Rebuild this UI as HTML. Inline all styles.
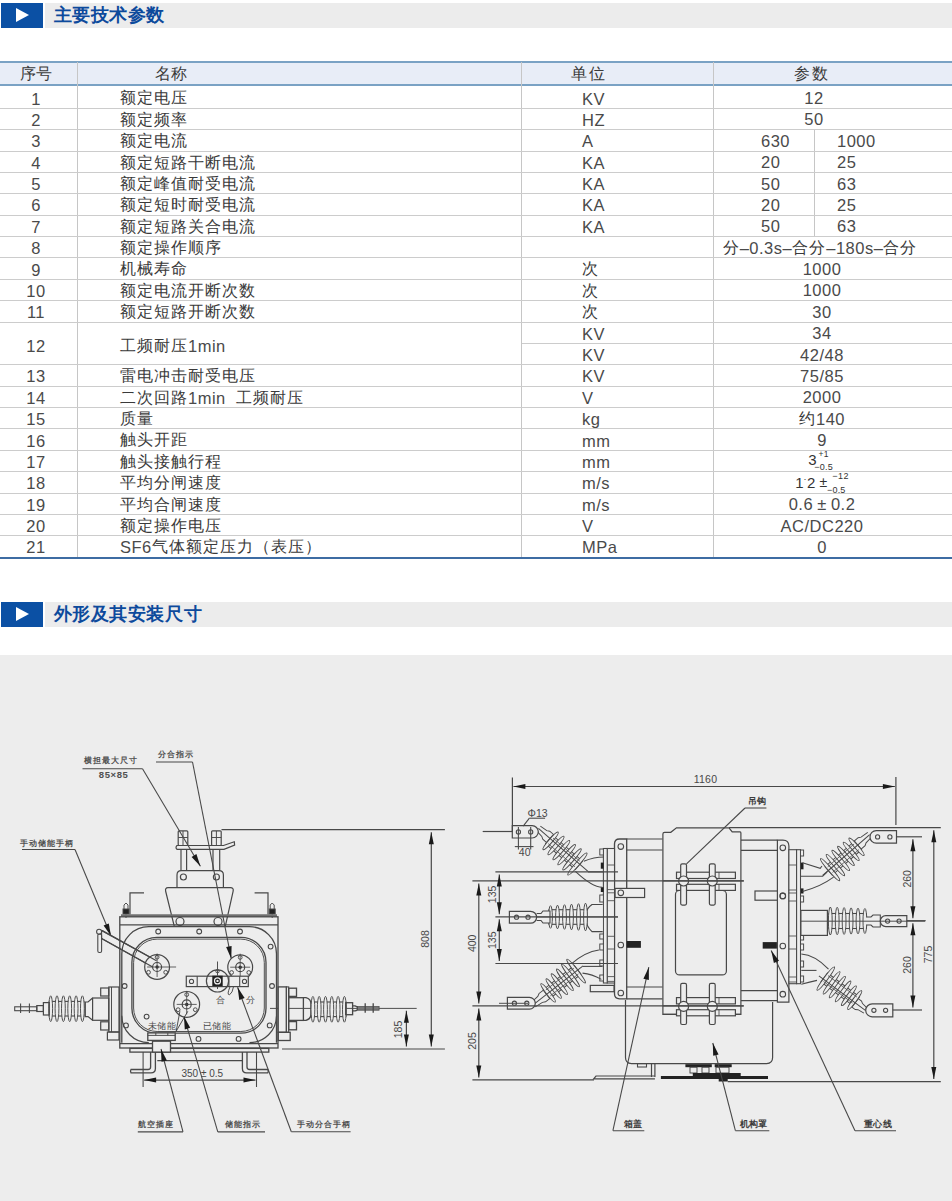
<!DOCTYPE html>
<html><head><meta charset="utf-8">
<style>
html,body{margin:0;padding:0;width:952px;height:1201px;overflow:hidden;background:#fff;}
body{position:relative;font-family:"Liberation Sans",sans-serif;color:#333;}
.abs{position:absolute;}
.hbox{position:absolute;left:1px;width:42px;height:25px;background:#0b50a4;}
.hbox:after{content:"";position:absolute;left:15px;top:5px;border-left:13px solid #fff;border-top:7.5px solid transparent;border-bottom:7.5px solid transparent;}
.hbar{position:absolute;left:45px;right:0;height:25px;background:#ececec;}
.htxt{position:absolute;left:53.5px;font-size:18px;color:#0d4a9c;line-height:25px;letter-spacing:0.6px;font-weight:bold;}
.hl{position:absolute;left:0;width:952px;height:1px;background:#cccccc;}
.vl{position:absolute;width:1px;background:#c6c6c6;}
.c{position:absolute;font-size:15.5px;line-height:21px;color:#3a3a3a;white-space:nowrap;}
.cc{text-align:center;}
.c{letter-spacing:1px;}
.l{font-size:16.5px;letter-spacing:0.5px;position:relative;top:1.2px;color:#4a4a4a;}
</style></head><body>
<div class="hbox" style="top:3px"></div><div class="hbar" style="top:3px"></div>
<div class="htxt" style="top:2.5px">主要技术参数</div>

<div id="tbl">
<div class="abs" style="left:0;top:62px;width:952px;height:23px;background:#e8edf7"></div>
<div class="abs" style="left:0;top:61px;width:952px;height:2px;background:#7aa2c4"></div>
<div class="abs" style="left:0;top:84px;width:952px;height:2px;background:#7aa2c4"></div>
<div class="abs" style="left:0;top:557px;width:952px;height:2px;background:#3d6ca3"></div>
<div class="c" style="left:20px;top:62px;line-height:23px;font-size:16px;letter-spacing:0.3px">序号</div>
<div class="c" style="left:155px;top:62px;line-height:23px;font-size:16px;letter-spacing:0.3px">名称</div>
<div class="c" style="left:570.5px;top:62px;line-height:23px;font-size:16px;letter-spacing:2.3px">单位</div>
<div class="c" style="left:793.5px;top:62px;line-height:23px;font-size:16px;letter-spacing:2px">参数</div>
<div class="vl" style="left:77px;top:62px;height:495px"></div>
<div class="vl" style="left:521.2px;top:62px;height:495px"></div>
<div class="vl" style="left:712.5px;top:62px;height:495px"></div>
<div class="vl" style="left:813.5px;top:129.7px;height:106.9px"></div>
<div class="c cc" style="left:0;width:72px;top:86.5px;line-height:22.3px"><span class="l">1</span></div>
<div class="c" style="left:120px;top:86.5px;line-height:22.3px">额定电压</div>
<div class="c" style="left:582px;top:86.5px;line-height:22.3px"><span class="l">KV</span></div>
<div class="c cc" style="left:714px;width:200px;top:86.0px;line-height:22.3px"><span class="l">12</span></div>
<div class="hl" style="top:108px"></div>
<div class="c cc" style="left:0;width:72px;top:108.8px;line-height:21.4px"><span class="l">2</span></div>
<div class="c" style="left:120px;top:108.8px;line-height:21.4px">额定频率</div>
<div class="c" style="left:582px;top:108.8px;line-height:21.4px"><span class="l">HZ</span></div>
<div class="c cc" style="left:714px;width:200px;top:108.3px;line-height:21.4px"><span class="l">50</span></div>
<div class="hl" style="top:129px"></div>
<div class="c cc" style="left:0;width:72px;top:130.2px;line-height:21.4px"><span class="l">3</span></div>
<div class="c" style="left:120px;top:130.2px;line-height:21.4px">额定电流</div>
<div class="c" style="left:582px;top:130.2px;line-height:21.4px"><span class="l">A</span></div>
<div class="c" style="left:761px;top:129.7px;line-height:21.4px"><span class="l">630</span></div>
<div class="c" style="left:837px;top:129.7px;line-height:21.4px"><span class="l">1000</span></div>
<div class="hl" style="top:151px"></div>
<div class="c cc" style="left:0;width:72px;top:151.6px;line-height:21.4px"><span class="l">4</span></div>
<div class="c" style="left:120px;top:151.6px;line-height:21.4px">额定短路干断电流</div>
<div class="c" style="left:582px;top:151.6px;line-height:21.4px"><span class="l">KA</span></div>
<div class="c" style="left:761px;top:151.1px;line-height:21.4px"><span class="l">20</span></div>
<div class="c" style="left:837px;top:151.1px;line-height:21.4px"><span class="l">25</span></div>
<div class="hl" style="top:172px"></div>
<div class="c cc" style="left:0;width:72px;top:172.9px;line-height:21.4px"><span class="l">5</span></div>
<div class="c" style="left:120px;top:172.9px;line-height:21.4px">额定峰值耐受电流</div>
<div class="c" style="left:582px;top:172.9px;line-height:21.4px"><span class="l">KA</span></div>
<div class="c" style="left:761px;top:172.4px;line-height:21.4px"><span class="l">50</span></div>
<div class="c" style="left:837px;top:172.4px;line-height:21.4px"><span class="l">63</span></div>
<div class="hl" style="top:193px"></div>
<div class="c cc" style="left:0;width:72px;top:194.3px;line-height:21.4px"><span class="l">6</span></div>
<div class="c" style="left:120px;top:194.3px;line-height:21.4px">额定短时耐受电流</div>
<div class="c" style="left:582px;top:194.3px;line-height:21.4px"><span class="l">KA</span></div>
<div class="c" style="left:761px;top:193.8px;line-height:21.4px"><span class="l">20</span></div>
<div class="c" style="left:837px;top:193.8px;line-height:21.4px"><span class="l">25</span></div>
<div class="hl" style="top:215px"></div>
<div class="c cc" style="left:0;width:72px;top:215.7px;line-height:21.4px"><span class="l">7</span></div>
<div class="c" style="left:120px;top:215.7px;line-height:21.4px">额定短路关合电流</div>
<div class="c" style="left:582px;top:215.7px;line-height:21.4px"><span class="l">KA</span></div>
<div class="c" style="left:761px;top:215.2px;line-height:21.4px"><span class="l">50</span></div>
<div class="c" style="left:837px;top:215.2px;line-height:21.4px"><span class="l">63</span></div>
<div class="hl" style="top:236px"></div>
<div class="c cc" style="left:0;width:72px;top:237.1px;line-height:21.4px"><span class="l">8</span></div>
<div class="c" style="left:120px;top:237.1px;line-height:21.4px">额定操作顺序</div>
<div class="c cc" style="left:720px;width:200px;top:236.6px;line-height:21.4px">分<span class="l">–0.3s–</span>合分<span class="l">–180s–</span>合分</div>
<div class="hl" style="top:257px"></div>
<div class="c cc" style="left:0;width:72px;top:258.4px;line-height:21.4px"><span class="l">9</span></div>
<div class="c" style="left:120px;top:258.4px;line-height:21.4px">机械寿命</div>
<div class="c" style="left:582px;top:258.4px;line-height:21.4px">次</div>
<div class="c cc" style="left:722px;width:200px;top:257.9px;line-height:21.4px"><span class="l">1000</span></div>
<div class="hl" style="top:279px"></div>
<div class="c cc" style="left:0;width:72px;top:279.8px;line-height:21.4px"><span class="l">10</span></div>
<div class="c" style="left:120px;top:279.8px;line-height:21.4px">额定电流开断次数</div>
<div class="c" style="left:582px;top:279.8px;line-height:21.4px">次</div>
<div class="c cc" style="left:722px;width:200px;top:279.3px;line-height:21.4px"><span class="l">1000</span></div>
<div class="hl" style="top:300px"></div>
<div class="c cc" style="left:0;width:72px;top:301.2px;line-height:21.4px"><span class="l">11</span></div>
<div class="c" style="left:120px;top:301.2px;line-height:21.4px">额定短路开断次数</div>
<div class="c" style="left:582px;top:301.2px;line-height:21.4px">次</div>
<div class="c cc" style="left:722px;width:200px;top:300.7px;line-height:21.4px"><span class="l">30</span></div>
<div class="hl" style="top:322px"></div>
<div class="c cc" style="left:0;width:72px;top:324.1px;line-height:42.8px"><span class="l">12</span></div>
<div class="c" style="left:120px;top:324.1px;line-height:42.8px">工频耐压<span class="l">1min</span></div>
<div class="c" style="left:582px;top:322.6px;line-height:21.4px"><span class="l">KV</span></div>
<div class="c cc" style="left:722px;width:200px;top:322.1px;line-height:21.4px"><span class="l">34</span></div>
<div class="abs" style="left:522px;top:343px;width:430px;height:1px;background:#cccccc"></div>
<div class="c" style="left:582px;top:343.9px;line-height:21.4px"><span class="l">KV</span></div>
<div class="c cc" style="left:722px;width:200px;top:343.4px;line-height:21.4px"><span class="l">42/48</span></div>
<div class="hl" style="top:364px"></div>
<div class="c cc" style="left:0;width:72px;top:365.3px;line-height:21.4px"><span class="l">13</span></div>
<div class="c" style="left:120px;top:365.3px;line-height:21.4px">雷电冲击耐受电压</div>
<div class="c" style="left:582px;top:365.3px;line-height:21.4px"><span class="l">KV</span></div>
<div class="c cc" style="left:722px;width:200px;top:364.8px;line-height:21.4px"><span class="l">75/85</span></div>
<div class="hl" style="top:386px"></div>
<div class="c cc" style="left:0;width:72px;top:386.7px;line-height:21.4px"><span class="l">14</span></div>
<div class="c" style="left:120px;top:386.7px;line-height:21.4px">二次回路<span class="l">1min</span>  工频耐压</div>
<div class="c" style="left:582px;top:386.7px;line-height:21.4px"><span class="l">V</span></div>
<div class="c cc" style="left:722px;width:200px;top:386.2px;line-height:21.4px"><span class="l">2000</span></div>
<div class="hl" style="top:407px"></div>
<div class="c cc" style="left:0;width:72px;top:408.1px;line-height:21.4px"><span class="l">15</span></div>
<div class="c" style="left:120px;top:408.1px;line-height:21.4px">质量</div>
<div class="c" style="left:582px;top:408.1px;line-height:21.4px"><span class="l">kg</span></div>
<div class="c cc" style="left:722px;width:200px;top:407.6px;line-height:21.4px">约<span class="l">140</span></div>
<div class="hl" style="top:428px"></div>
<div class="c cc" style="left:0;width:72px;top:429.4px;line-height:21.4px"><span class="l">16</span></div>
<div class="c" style="left:120px;top:429.4px;line-height:21.4px">触头开距</div>
<div class="c" style="left:582px;top:429.4px;line-height:21.4px"><span class="l">mm</span></div>
<div class="c cc" style="left:722px;width:200px;top:428.9px;line-height:21.4px"><span class="l">9</span></div>
<div class="hl" style="top:450px"></div>
<div class="c cc" style="left:0;width:72px;top:450.8px;line-height:21.4px"><span class="l">17</span></div>
<div class="c" style="left:120px;top:450.8px;line-height:21.4px">触头接触行程</div>
<div class="c" style="left:582px;top:450.8px;line-height:21.4px"><span class="l">mm</span></div>
<div class="hl" style="top:471px"></div>
<div class="c cc" style="left:0;width:72px;top:472.2px;line-height:21.4px"><span class="l">18</span></div>
<div class="c" style="left:120px;top:472.2px;line-height:21.4px">平均分闸速度</div>
<div class="c" style="left:582px;top:472.2px;line-height:21.4px"><span class="l">m/s</span></div>
<div class="hl" style="top:493px"></div>
<div class="c cc" style="left:0;width:72px;top:493.6px;line-height:21.4px"><span class="l">19</span></div>
<div class="c" style="left:120px;top:493.6px;line-height:21.4px">平均合闸速度</div>
<div class="c" style="left:582px;top:493.6px;line-height:21.4px"><span class="l">m/s</span></div>
<div class="c cc" style="left:722px;width:200px;top:493.1px;line-height:21.4px"><span class="l">0.6</span> <span class="l">±</span> <span class="l">0.2</span></div>
<div class="hl" style="top:514px"></div>
<div class="c cc" style="left:0;width:72px;top:514.9px;line-height:21.4px"><span class="l">20</span></div>
<div class="c" style="left:120px;top:514.9px;line-height:21.4px">额定操作电压</div>
<div class="c" style="left:582px;top:514.9px;line-height:21.4px"><span class="l">V</span></div>
<div class="c cc" style="left:722px;width:200px;top:514.4px;line-height:21.4px"><span class="l">AC/DC220</span></div>
<div class="hl" style="top:535px"></div>
<div class="c cc" style="left:0;width:72px;top:536.3px;line-height:21.4px"><span class="l">21</span></div>
<div class="c" style="left:120px;top:536.3px;line-height:21.4px"><span class="l">SF6</span>气体额定压力（表压）</div>
<div class="c" style="left:582px;top:536.3px;line-height:21.4px"><span class="l">MPa</span></div>
<div class="c cc" style="left:722px;width:200px;top:535.8px;line-height:21.4px"><span class="l">0</span></div>
<div class="abs" style="left:808.2px;top:452.0px;font-size:15.0px;line-height:1;letter-spacing:0.0px;color:#333;white-space:nowrap">3</div>
<div class="abs" style="left:818.5px;top:450.3px;font-size:8.5px;line-height:1;letter-spacing:0.3px;color:#333;white-space:nowrap">+1</div>
<div class="abs" style="left:814.3px;top:462.8px;font-size:9.0px;line-height:1;letter-spacing:0.2px;color:#333;white-space:nowrap">−0.5</div>
<div class="abs" style="left:795.2px;top:475.0px;font-size:15.0px;line-height:1;letter-spacing:0.0px;color:#333;white-space:nowrap">1</div>
<div class="abs" style="left:803.5px;top:475.0px;font-size:9.0px;line-height:1;letter-spacing:0.0px;color:#333;white-space:nowrap">·</div>
<div class="abs" style="left:807.0px;top:475.0px;font-size:15.0px;line-height:1;letter-spacing:0.0px;color:#333;white-space:nowrap">2</div>
<div class="abs" style="left:819.5px;top:474.5px;font-size:14.0px;line-height:1;letter-spacing:0.0px;color:#333;white-space:nowrap">±</div>
<div class="abs" style="left:832.2px;top:472.0px;font-size:9.0px;line-height:1;letter-spacing:0.5px;color:#333;white-space:nowrap">−12</div>
<div class="abs" style="left:827.0px;top:486.4px;font-size:9.0px;line-height:1;letter-spacing:0.2px;color:#333;white-space:nowrap">−0.5</div>
</div>

<div class="hbox" style="top:602px"></div><div class="hbar" style="top:602px"></div>
<div class="htxt" style="top:601.5px">外形及其安装尺寸</div>

<div class="abs" style="left:0;top:654.6px;width:952px;height:547px;background:#ededed"></div>
<svg class="abs" style="left:0;top:0" width="952" height="1201" viewBox="0 0 952 1201" font-family="Liberation Sans, sans-serif">
<text x="84.0" y="763.2" font-size="8.2" text-anchor="start" font-weight="bold" fill="#505050" letter-spacing="1.1">横担最大尺寸</text>
<line x1="82.5" y1="768.8" x2="142.5" y2="768.8" stroke="#484848" stroke-width="1.08"/>
<text x="98.8" y="777.8" font-size="9.5" text-anchor="start" font-weight="bold" fill="#505050" letter-spacing="0.6">85×85</text>
<line x1="142.5" y1="768.8" x2="200.4" y2="866.3" stroke="#484848" stroke-width="1.08"/>
<path d="M200.4,866.3 L191.6,857.0 L196.4,854.1 Z" fill="#1a1a1a"/>
<text x="157.5" y="756.7" font-size="8.2" text-anchor="start" font-weight="bold" fill="#505050" letter-spacing="1.1">分合指示</text>
<line x1="156.0" y1="762.0" x2="192.5" y2="762.0" stroke="#484848" stroke-width="1.08"/>
<line x1="192.5" y1="762.0" x2="231.3" y2="958.8" stroke="#484848" stroke-width="1.08"/>
<path d="M231.3,958.8 L226.1,947.1 L231.6,946.0 Z" fill="#1a1a1a"/>
<text x="20.0" y="845.7" font-size="8.2" text-anchor="start" font-weight="bold" fill="#505050" letter-spacing="1.1">手动储能手柄</text>
<line x1="22.0" y1="849.5" x2="75.0" y2="849.5" stroke="#484848" stroke-width="1.08"/>
<line x1="75.0" y1="849.5" x2="111.0" y2="936.0" stroke="#484848" stroke-width="1.08"/>
<path d="M111.0,936.0 L103.6,925.5 L108.8,923.4 Z" fill="#1a1a1a"/>
<line x1="221.5" y1="829.7" x2="444.9" y2="829.7" stroke="#484848" stroke-width="1.20"/>
<line x1="282.0" y1="1049.0" x2="444.9" y2="1049.0" stroke="#484848" stroke-width="1.20"/>
<line x1="431.3" y1="832.2" x2="431.3" y2="1046.5" stroke="#484848" stroke-width="1.20"/>
<path d="M431.3,832.2 L433.8,844.2 L428.8,844.2 Z" fill="#1a1a1a"/>
<path d="M431.3,1046.5 L428.8,1034.5 L433.8,1034.5 Z" fill="#1a1a1a"/>
<text x="429.3" y="939.0" font-size="10.5" text-anchor="middle" font-weight="normal" fill="#484848" letter-spacing="0" transform="rotate(-90 429.3 939.0)">808</text>
<line x1="270.0" y1="1008.4" x2="416.7" y2="1008.4" stroke="#484848" stroke-width="0.96"/>
<line x1="406.4" y1="1010.8" x2="406.4" y2="1046.5" stroke="#484848" stroke-width="1.20"/>
<path d="M406.4,1010.8 L408.9,1022.8 L403.9,1022.8 Z" fill="#1a1a1a"/>
<path d="M406.4,1046.5 L403.9,1034.5 L408.9,1034.5 Z" fill="#1a1a1a"/>
<text x="402.3" y="1029.5" font-size="10.5" text-anchor="middle" font-weight="normal" fill="#484848" letter-spacing="0" transform="rotate(-90 402.3 1029.5)">185</text>
<rect x="178.2" y="830.8" width="9.6" height="14.7" rx="1" fill="none" stroke="#484848" stroke-width="1.20"/>
<line x1="183.0" y1="831.0" x2="183.0" y2="845.0" stroke="#484848" stroke-width="0.96"/>
<line x1="178.2" y1="837.5" x2="187.8" y2="837.5" stroke="#484848" stroke-width="0.96"/>
<rect x="211.6" y="830.8" width="9.6" height="14.7" rx="1" fill="none" stroke="#484848" stroke-width="1.20"/>
<line x1="216.4" y1="831.0" x2="216.4" y2="845.0" stroke="#484848" stroke-width="0.96"/>
<line x1="211.6" y1="837.5" x2="221.2" y2="837.5" stroke="#484848" stroke-width="0.96"/>
<path d="M177,849.3 L224,849.3 L234.6,845 L234.3,841.8 L223.5,845.5 L177,845.5 Q175,847.4 177,849.3 Z" fill="none" stroke="#484848" stroke-width="1.20"/>
<line x1="181.0" y1="849.3" x2="181.0" y2="870.7" stroke="#484848" stroke-width="1.20"/>
<line x1="186.6" y1="849.3" x2="186.6" y2="870.7" stroke="#484848" stroke-width="1.20"/>
<line x1="213.0" y1="849.3" x2="213.0" y2="870.7" stroke="#484848" stroke-width="1.20"/>
<line x1="219.7" y1="849.3" x2="219.7" y2="870.7" stroke="#484848" stroke-width="1.20"/>
<path d="M177,887 L177,875 Q177,870.7 181.3,870.7 L219,870.7 Q223.4,870.7 223.4,875 L223.4,887" fill="none" stroke="#484848" stroke-width="1.20"/>
<circle cx="183.4" cy="877.0" r="3" fill="none" stroke="#484848" stroke-width="1.20"/>
<circle cx="216.4" cy="877.0" r="3" fill="none" stroke="#484848" stroke-width="1.20"/>
<path d="M168,887.7 L230.5,887.7 Q233.8,887.7 233.2,891 L225.3,926.3 L174.3,926.3 L165.6,891 Q165,887.7 168,887.7 Z" fill="none" stroke="#484848" stroke-width="1.20"/>
<circle cx="180.0" cy="921.5" r="4" fill="none" stroke="#484848" stroke-width="1.20"/>
<circle cx="218.0" cy="921.5" r="4" fill="none" stroke="#484848" stroke-width="1.20"/>
<path d="M144,892.8 L130,892.8 L130,914.5" fill="none" stroke="#484848" stroke-width="1.20"/>
<path d="M254.6,892.8 L268,892.8 L268,914.5" fill="none" stroke="#484848" stroke-width="1.20"/>
<rect x="123.0" y="909.0" width="6.0" height="5.0" fill="#222" stroke="#484848" stroke-width="0.96"/>
<path d="M124,909 L124,905 L126,903 L128,905 L128,909" fill="none" stroke="#484848" stroke-width="0.96"/>
<line x1="126.0" y1="914.0" x2="126.0" y2="918.0" stroke="#484848" stroke-width="0.96"/>
<rect x="269.2" y="909.0" width="6.0" height="5.0" fill="#222" stroke="#484848" stroke-width="0.96"/>
<path d="M270.2,909 L270.2,905 L272.2,903 L274.2,905 L274.2,909" fill="none" stroke="#484848" stroke-width="0.96"/>
<line x1="272.2" y1="914.0" x2="272.2" y2="918.0" stroke="#484848" stroke-width="0.96"/>
<line x1="121.0" y1="915.4" x2="277.0" y2="915.4" stroke="#707070" stroke-width="2.28"/>
<rect x="119.8" y="916.8" width="158.2" height="131.2" fill="none" stroke="#484848" stroke-width="1.32"/>
<line x1="120.0" y1="924.8" x2="278.0" y2="924.8" stroke="#484848" stroke-width="1.32"/>
<line x1="120.0" y1="1043.6" x2="278.0" y2="1043.6" stroke="#484848" stroke-width="1.32"/>
<path d="M121.8,1042.7 L121.8,953.7 A27,27 0 0 1 148.8,926.7 L249.5,926.7 A27,27 0 0 1 276.5,953.7 L276.5,1042.7" fill="none" stroke="#484848" stroke-width="1.32"/>
<path d="M148.8,1042.7 A27,27 0 0 1 121.8,1015.7 M276.5,1015.7 A27,27 0 0 1 249.5,1042.7" fill="none" stroke="#484848" stroke-width="1.20"/>
<rect x="131.9" y="937.4" width="134.1" height="95.8" rx="25" fill="none" stroke="#484848" stroke-width="1.32"/>
<rect x="133.6" y="939.1" width="130.7" height="92.4" rx="23.5" fill="none" stroke="#484848" stroke-width="0.96"/>
<circle cx="158.2" cy="931.5" r="2.4" fill="none" stroke="#484848" stroke-width="1.08"/>
<circle cx="199.2" cy="931.5" r="2.4" fill="none" stroke="#484848" stroke-width="1.08"/>
<circle cx="240.0" cy="931.5" r="2.4" fill="none" stroke="#484848" stroke-width="1.08"/>
<circle cx="124.6" cy="986.0" r="2.4" fill="none" stroke="#484848" stroke-width="1.08"/>
<circle cx="272.0" cy="986.0" r="2.4" fill="none" stroke="#484848" stroke-width="1.08"/>
<circle cx="270.6" cy="946.6" r="2.4" fill="none" stroke="#484848" stroke-width="1.08"/>
<circle cx="126.0" cy="1025.4" r="2.4" fill="none" stroke="#484848" stroke-width="1.08"/>
<circle cx="269.7" cy="1025.4" r="2.4" fill="none" stroke="#484848" stroke-width="1.08"/>
<circle cx="198.5" cy="1038.9" r="2.4" fill="none" stroke="#484848" stroke-width="1.08"/>
<circle cx="238.6" cy="1038.9" r="2.4" fill="none" stroke="#484848" stroke-width="1.08"/>
<circle cx="146.6" cy="1016.6" r="2.4" fill="none" stroke="#484848" stroke-width="1.08"/>
<circle cx="99.1" cy="931.7" r="2.5" fill="none" stroke="#484848" stroke-width="1.08"/>
<rect x="97.8" y="934.0" width="3.8" height="18.5" rx="1.5" fill="none" stroke="#484848" stroke-width="1.08"/>
<line x1="101.6" y1="930.4" x2="156.5" y2="960.7" stroke="#484848" stroke-width="1.20"/>
<line x1="101.6" y1="938.6" x2="152.7" y2="967.0" stroke="#484848" stroke-width="1.20"/>
<line x1="101.6" y1="930.4" x2="101.6" y2="938.6" stroke="#484848" stroke-width="1.08"/>
<circle cx="157.1" cy="967.0" r="12.4" fill="#ededed" stroke="#484848" stroke-width="1.20"/>
<circle cx="157.1" cy="967.0" r="4.5" fill="none" stroke="#484848" stroke-width="1.20"/>
<circle cx="157.1" cy="967.0" r="1.7" fill="#222"/>
<circle cx="148.5" cy="972.3" r="1.9" fill="none" stroke="#484848" stroke-width="0.96"/>
<circle cx="165.7" cy="972.3" r="1.9" fill="none" stroke="#484848" stroke-width="0.96"/>
<circle cx="157.1" cy="957.2" r="1.9" fill="none" stroke="#484848" stroke-width="0.96"/>
<line x1="147.1" y1="967.0" x2="176.1" y2="967.0" stroke="#484848" stroke-width="0.84"/>
<line x1="157.1" y1="953.5" x2="157.1" y2="977.0" stroke="#484848" stroke-width="0.84"/>
<line x1="101.6" y1="930.4" x2="156.5" y2="960.7" stroke="#484848" stroke-width="1.20"/>
<line x1="101.6" y1="938.6" x2="152.7" y2="967.0" stroke="#484848" stroke-width="1.20"/>
<circle cx="240.2" cy="967.2" r="12.4" fill="#ededed" stroke="#484848" stroke-width="1.20"/>
<circle cx="240.2" cy="967.2" r="4.5" fill="none" stroke="#484848" stroke-width="1.20"/>
<circle cx="240.2" cy="967.2" r="1.7" fill="#222"/>
<circle cx="231.6" cy="972.5" r="1.9" fill="none" stroke="#484848" stroke-width="0.96"/>
<circle cx="248.8" cy="972.5" r="1.9" fill="none" stroke="#484848" stroke-width="0.96"/>
<circle cx="240.2" cy="957.4" r="1.9" fill="none" stroke="#484848" stroke-width="0.96"/>
<line x1="230.2" y1="967.2" x2="250.2" y2="967.2" stroke="#484848" stroke-width="0.84"/>
<line x1="240.2" y1="953.7" x2="240.2" y2="977.2" stroke="#484848" stroke-width="0.84"/>
<circle cx="186.7" cy="1004.4" r="12.9" fill="#ededed" stroke="#484848" stroke-width="1.20"/>
<circle cx="186.7" cy="1004.4" r="4.5" fill="none" stroke="#484848" stroke-width="1.20"/>
<circle cx="186.7" cy="1004.4" r="1.7" fill="#222"/>
<circle cx="178.1" cy="1009.7" r="1.9" fill="none" stroke="#484848" stroke-width="0.96"/>
<circle cx="195.3" cy="1009.7" r="1.9" fill="none" stroke="#484848" stroke-width="0.96"/>
<circle cx="186.7" cy="994.6" r="1.9" fill="none" stroke="#484848" stroke-width="0.96"/>
<line x1="176.7" y1="1004.4" x2="196.7" y2="1004.4" stroke="#484848" stroke-width="0.84"/>
<line x1="186.7" y1="990.9" x2="186.7" y2="1014.4" stroke="#484848" stroke-width="0.84"/>
<rect x="186.3" y="976.2" width="62.0" height="10.4" fill="#ededed" stroke="#484848" stroke-width="1.20"/>
<line x1="197.2" y1="976.2" x2="197.2" y2="986.6" stroke="#484848" stroke-width="1.08"/>
<line x1="228.9" y1="976.2" x2="228.9" y2="986.6" stroke="#484848" stroke-width="1.08"/>
<line x1="239.7" y1="976.2" x2="239.7" y2="986.6" stroke="#484848" stroke-width="1.08"/>
<circle cx="191.5" cy="981.4" r="2.1" fill="none" stroke="#484848" stroke-width="1.08"/>
<circle cx="244.5" cy="981.4" r="2.1" fill="none" stroke="#484848" stroke-width="1.08"/>
<circle cx="217.5" cy="980.9" r="11.1" fill="none" stroke="#484848" stroke-width="1.20"/>
<rect x="212.3" y="975.7" width="10.4" height="10.4" fill="#1e1e1e"/>
<circle cx="217.5" cy="980.9" r="3" fill="none" stroke="#ededed" stroke-width="1.2"/>
<circle cx="217.5" cy="980.9" r="1.2" fill="#ededed"/>
<line x1="217.5" y1="961.5" x2="217.5" y2="975.7" stroke="#484848" stroke-width="0.96"/>
<line x1="217.5" y1="986.1" x2="217.5" y2="989.0" stroke="#484848" stroke-width="0.96"/>
<circle cx="217.5" cy="971.2" r="1.7" fill="none" stroke="#484848" stroke-width="0.96"/>
<path d="M230,986.8 Q226.5,995 229.5,994.8 Q232.5,993 233.5,986.8" fill="none" stroke="#484848" stroke-width="0.96"/>
<text x="220.8" y="1002.6" font-size="8.5" text-anchor="middle" font-weight="normal" fill="#484848" letter-spacing="0">合</text>
<text x="250.8" y="1002.6" font-size="8.5" text-anchor="middle" font-weight="normal" fill="#484848" letter-spacing="0">分</text>
<path d="M179.9,1011.3 L176.2,1031.2 L187.8,1011.3" fill="none" stroke="#484848" stroke-width="0.96"/>
<text x="147.6" y="1029.3" font-size="8.6" text-anchor="start" font-weight="normal" fill="#484848" letter-spacing="0.5">未储能</text>
<text x="202.8" y="1029.3" font-size="8.6" text-anchor="start" font-weight="normal" fill="#484848" letter-spacing="0.5">已储能</text>
<rect x="108.8" y="987.0" width="10.2" height="45.0" fill="none" stroke="#484848" stroke-width="1.20"/>
<line x1="111.5" y1="987.0" x2="111.5" y2="1032.0" stroke="#484848" stroke-width="0.96"/>
<rect x="100.7" y="988.0" width="8.1" height="8.0" fill="none" stroke="#484848" stroke-width="1.20"/>
<rect x="100.7" y="1021.8" width="8.1" height="8.2" fill="none" stroke="#484848" stroke-width="1.20"/>
<rect x="107.4" y="1032.0" width="11.6" height="8.0" fill="none" stroke="#484848" stroke-width="1.20"/>
<rect x="92.6" y="998.0" width="16.2" height="22.3" fill="none" stroke="#484848" stroke-width="1.20"/>
<path d="M92.6,998 L88,1002 L85.3,1002 L85.3,1016.6 L88,1016.6 L92.6,1020.3" fill="none" stroke="#484848" stroke-width="1.20"/>
<rect x="49.2" y="1001.4" width="34.7" height="14.6" fill="#ededed" stroke="#484848" stroke-width="1.08"/>
<ellipse cx="50.7" cy="1008.7" rx="1.9" ry="12.9" fill="#ededed" stroke="#484848" stroke-width="0.95"/>
<ellipse cx="57.0" cy="1008.7" rx="1.9" ry="12.9" fill="#ededed" stroke="#484848" stroke-width="0.95"/>
<ellipse cx="63.4" cy="1008.7" rx="1.9" ry="12.9" fill="#ededed" stroke="#484848" stroke-width="0.95"/>
<ellipse cx="69.7" cy="1008.7" rx="1.9" ry="12.9" fill="#ededed" stroke="#484848" stroke-width="0.95"/>
<ellipse cx="76.1" cy="1008.7" rx="1.9" ry="12.9" fill="#ededed" stroke="#484848" stroke-width="0.95"/>
<ellipse cx="82.4" cy="1008.7" rx="1.9" ry="12.9" fill="#ededed" stroke="#484848" stroke-width="0.95"/>
<rect x="43.4" y="1002.6" width="5.9" height="12.4" fill="none" stroke="#484848" stroke-width="1.20"/>
<rect x="36.8" y="1005.6" width="6.6" height="5.9" fill="none" stroke="#484848" stroke-width="1.20"/>
<rect x="14.7" y="1006.8" width="22.1" height="3.9" fill="none" stroke="#484848" stroke-width="1.08"/>
<line x1="20.6" y1="1003.4" x2="20.6" y2="1013.0" stroke="#484848" stroke-width="1.08"/>
<line x1="29.4" y1="1003.4" x2="29.4" y2="1013.0" stroke="#484848" stroke-width="1.08"/>
<rect x="278.2" y="986.9" width="8.2" height="45.4" fill="#ededed" stroke="#484848" stroke-width="1.32"/>
<rect x="286.4" y="986.9" width="2.3" height="45.4" fill="#ededed" stroke="#484848" stroke-width="1.08"/>
<rect x="288.7" y="988.2" width="7.8" height="8.2" fill="none" stroke="#484848" stroke-width="1.32"/>
<rect x="288.7" y="1021.6" width="7.8" height="8.2" fill="none" stroke="#484848" stroke-width="1.32"/>
<rect x="278.2" y="1032.3" width="12.0" height="8.2" fill="none" stroke="#484848" stroke-width="1.32"/>
<rect x="288.7" y="997.7" width="14.7" height="22.7" fill="none" stroke="#484848" stroke-width="1.32"/>
<path d="M303.4,997.7 L306,997.7 Q311,999 311,1004 L311,1014 Q311,1019 306,1020.4 L303.4,1020.4" fill="none" stroke="#484848" stroke-width="1.32"/>
<rect x="311.4" y="1002.0" width="34.5" height="14.6" fill="#ededed" stroke="#484848" stroke-width="1.08"/>
<ellipse cx="312.9" cy="1009.3" rx="1.9" ry="12.9" fill="#ededed" stroke="#484848" stroke-width="0.95"/>
<ellipse cx="319.2" cy="1009.3" rx="1.9" ry="12.9" fill="#ededed" stroke="#484848" stroke-width="0.95"/>
<ellipse cx="325.5" cy="1009.3" rx="1.9" ry="12.9" fill="#ededed" stroke="#484848" stroke-width="0.95"/>
<ellipse cx="331.8" cy="1009.3" rx="1.9" ry="12.9" fill="#ededed" stroke="#484848" stroke-width="0.95"/>
<ellipse cx="338.1" cy="1009.3" rx="1.9" ry="12.9" fill="#ededed" stroke="#484848" stroke-width="0.95"/>
<ellipse cx="344.4" cy="1009.3" rx="1.9" ry="12.9" fill="#ededed" stroke="#484848" stroke-width="0.95"/>
<rect x="345.7" y="1002.7" width="6.9" height="12.0" fill="none" stroke="#484848" stroke-width="1.32"/>
<path d="M352.6,1005.9 L355,1005.9 Q357.6,1006.5 357.6,1008.4 Q357.6,1010.3 355,1010.9 L352.6,1010.9" fill="none" stroke="#484848" stroke-width="1.20"/>
<rect x="357.6" y="1006.6" width="21.5" height="3.6" fill="#777" stroke="#484848" stroke-width="0.72"/>
<line x1="365.2" y1="1003.3" x2="365.2" y2="1012.8" stroke="#484848" stroke-width="1.32"/>
<line x1="373.2" y1="1003.3" x2="373.2" y2="1012.8" stroke="#484848" stroke-width="1.32"/>
<rect x="147.8" y="1032.9" width="27.4" height="7.5" fill="#ededed" stroke="#484848" stroke-width="1.32"/>
<line x1="147.8" y1="1035.4" x2="175.2" y2="1035.4" stroke="#484848" stroke-width="0.96"/>
<line x1="155.8" y1="1032.9" x2="155.8" y2="1035.4" stroke="#484848" stroke-width="0.96"/>
<line x1="167.8" y1="1032.9" x2="167.8" y2="1035.4" stroke="#484848" stroke-width="0.96"/>
<rect x="129.9" y="1048.4" width="138.9" height="3.7" fill="#ededed" stroke="#484848" stroke-width="1.32"/>
<rect x="152.5" y="1041.2" width="18.0" height="10.9" fill="#ededed" stroke="#484848" stroke-width="1.32"/>
<path d="M150.6,1052.1 L150.6,1067 Q150.6,1069.5 148,1069.5 L131,1069.5 Q129.9,1071.2 131,1072.9 L151,1072.9 Q155.4,1072.9 155.4,1068.5 L155.4,1052.1" fill="none" stroke="#484848" stroke-width="1.32"/>
<path d="M247,1052.1 L247,1067 Q247,1069.5 249.6,1069.5 L267.7,1069.5 Q268.8,1071.2 267.7,1072.9 L246.5,1072.9 Q242.4,1072.9 242.4,1068.5 L242.4,1052.1" fill="none" stroke="#484848" stroke-width="1.32"/>
<line x1="157.3" y1="1060.6" x2="242.4" y2="1060.6" stroke="#484848" stroke-width="1.32"/>
<line x1="143.1" y1="1052.0" x2="143.1" y2="1087.0" stroke="#484848" stroke-width="1.08"/>
<line x1="256.5" y1="1052.0" x2="256.5" y2="1087.0" stroke="#484848" stroke-width="1.08"/>
<line x1="144.1" y1="1080.1" x2="255.5" y2="1080.1" stroke="#484848" stroke-width="1.20"/>
<path d="M144.1,1080.1 L156.1,1077.6 L156.1,1082.6 Z" fill="#1a1a1a"/>
<path d="M255.5,1080.1 L243.5,1082.6 L243.5,1077.6 Z" fill="#1a1a1a"/>
<text x="181.5" y="1077.0" font-size="10" text-anchor="start" font-weight="normal" fill="#484848" letter-spacing="0">350 ± 0.5</text>
<text x="137.8" y="1127.4" font-size="8.2" text-anchor="start" font-weight="bold" fill="#505050" letter-spacing="1.1">航空插座</text>
<line x1="137.8" y1="1131.9" x2="183.0" y2="1131.9" stroke="#484848" stroke-width="1.08"/>
<line x1="183.0" y1="1131.9" x2="161.0" y2="1049.0" stroke="#484848" stroke-width="1.08"/>
<path d="M161.0,1049.0 L166.9,1060.4 L161.5,1061.8 Z" fill="#1a1a1a"/>
<text x="224.7" y="1127.4" font-size="8.2" text-anchor="start" font-weight="bold" fill="#505050" letter-spacing="1.1">储能指示</text>
<line x1="217.8" y1="1131.9" x2="265.0" y2="1131.9" stroke="#484848" stroke-width="1.08"/>
<line x1="217.8" y1="1131.9" x2="184.0" y2="1016.6" stroke="#484848" stroke-width="1.08"/>
<path d="M184.0,1016.6 L190.2,1027.8 L184.8,1029.4 Z" fill="#1a1a1a"/>
<text x="296.6" y="1127.1" font-size="8.2" text-anchor="start" font-weight="bold" fill="#505050" letter-spacing="1.1">手动分合手柄</text>
<line x1="291.3" y1="1131.8" x2="350.6" y2="1131.8" stroke="#484848" stroke-width="1.08"/>
<line x1="291.3" y1="1131.8" x2="237.6" y2="987.2" stroke="#484848" stroke-width="1.08"/>
<path d="M237.6,987.2 L244.6,997.9 L239.3,999.9 Z" fill="#1a1a1a"/>
<path d="M625.5,1000 L625.5,1057.6 Q625.5,1063.6 631.5,1063.6 L766.6,1063.6 Q772.6,1063.6 772.6,1057.6 L772.6,1002" fill="#ededed" stroke="#484848" stroke-width="1.20"/>
<path d="M626.7,839 L619.5,839 Q614.5,839 614.5,844 L614.5,993.8 Q614.5,998.8 619.5,998.8 L626.7,998.8 Z" fill="#ededed" stroke="#484848" stroke-width="1.32"/>
<circle cx="620.8" cy="846.6" r="2.8" fill="none" stroke="#484848" stroke-width="1.08"/>
<circle cx="620.8" cy="892.8" r="2.8" fill="none" stroke="#484848" stroke-width="1.08"/>
<circle cx="620.8" cy="945.0" r="2.8" fill="none" stroke="#484848" stroke-width="1.08"/>
<circle cx="620.8" cy="993.0" r="2.8" fill="none" stroke="#484848" stroke-width="1.08"/>
<rect x="607.2" y="848.5" width="7.3" height="134.5" fill="#ededed" stroke="#484848" stroke-width="1.08"/>
<line x1="607.2" y1="865.0" x2="614.5" y2="865.0" stroke="#484848" stroke-width="0.84"/>
<line x1="607.2" y1="889.6" x2="614.5" y2="889.6" stroke="#484848" stroke-width="0.84"/>
<line x1="607.2" y1="892.8" x2="614.5" y2="892.8" stroke="#484848" stroke-width="0.84"/>
<line x1="607.2" y1="900.7" x2="614.5" y2="900.7" stroke="#484848" stroke-width="0.84"/>
<line x1="607.2" y1="936.3" x2="614.5" y2="936.3" stroke="#484848" stroke-width="0.84"/>
<line x1="607.2" y1="949.0" x2="614.5" y2="949.0" stroke="#484848" stroke-width="0.84"/>
<line x1="607.2" y1="976.6" x2="614.5" y2="976.6" stroke="#484848" stroke-width="0.84"/>
<line x1="607.2" y1="981.4" x2="614.5" y2="981.4" stroke="#484848" stroke-width="0.84"/>
<rect x="603.4" y="848.5" width="3.8" height="134.5" fill="#ededed" stroke="#484848" stroke-width="1.08"/>
<rect x="599.8" y="849.0" width="3.6" height="6.0" fill="#ededed" stroke="#484848" stroke-width="0.96"/>
<rect x="599.8" y="895.0" width="3.6" height="7.0" fill="#ededed" stroke="#484848" stroke-width="0.96"/>
<rect x="599.8" y="934.0" width="3.6" height="5.0" fill="#ededed" stroke="#484848" stroke-width="0.96"/>
<rect x="599.8" y="944.0" width="3.6" height="6.0" fill="#ededed" stroke="#484848" stroke-width="0.96"/>
<rect x="599.8" y="960.0" width="3.6" height="6.0" fill="#ededed" stroke="#484848" stroke-width="0.96"/>
<rect x="599.8" y="975.0" width="3.6" height="6.0" fill="#ededed" stroke="#484848" stroke-width="0.96"/>
<rect x="600.8" y="862.6" width="2.8" height="6.1" fill="#222"/>
<rect x="600.8" y="887.2" width="2.8" height="4.8" fill="#222"/>
<line x1="626.7" y1="839.0" x2="662.6" y2="839.0" stroke="#484848" stroke-width="1.20"/>
<line x1="626.7" y1="850.0" x2="662.6" y2="850.0" stroke="#484848" stroke-width="1.20"/>
<line x1="626.7" y1="987.0" x2="662.6" y2="987.0" stroke="#484848" stroke-width="1.20"/>
<line x1="626.7" y1="998.8" x2="662.6" y2="998.8" stroke="#484848" stroke-width="1.20"/>
<rect x="615.1" y="888.4" width="29.5" height="9.1" fill="#ededed" stroke="#484848" stroke-width="1.20"/>
<circle cx="620.8" cy="892.8" r="2.8" fill="none" stroke="#484848" stroke-width="1.08"/>
<rect x="626.7" y="941.0" width="14.2" height="6.8" fill="#222"/>
<rect x="590.3" y="985.4" width="23.7" height="6.3" fill="#ededed" stroke="#484848" stroke-width="1.20"/>
<path d="M777.4,1002.2 L777.4,840.1 L782.9,840.1 Q788.9,840.1 788.9,846.1 L788.9,1002.2 Z" fill="#ededed" stroke="#484848" stroke-width="1.20"/>
<circle cx="782.8" cy="847.8" r="2.8" fill="none" stroke="#484848" stroke-width="1.08"/>
<circle cx="782.8" cy="895.9" r="2.8" fill="none" stroke="#484848" stroke-width="1.08"/>
<circle cx="782.8" cy="946.0" r="2.8" fill="none" stroke="#484848" stroke-width="1.08"/>
<circle cx="782.8" cy="994.2" r="2.8" fill="none" stroke="#484848" stroke-width="1.08"/>
<rect x="788.9" y="849.7" width="7.7" height="134.0" fill="#ededed" stroke="#484848" stroke-width="1.08"/>
<line x1="788.9" y1="865.0" x2="796.6" y2="865.0" stroke="#484848" stroke-width="0.84"/>
<line x1="788.9" y1="890.0" x2="796.6" y2="890.0" stroke="#484848" stroke-width="0.84"/>
<line x1="788.9" y1="893.0" x2="796.6" y2="893.0" stroke="#484848" stroke-width="0.84"/>
<line x1="788.9" y1="901.0" x2="796.6" y2="901.0" stroke="#484848" stroke-width="0.84"/>
<line x1="788.9" y1="936.0" x2="796.6" y2="936.0" stroke="#484848" stroke-width="0.84"/>
<line x1="788.9" y1="949.0" x2="796.6" y2="949.0" stroke="#484848" stroke-width="0.84"/>
<line x1="788.9" y1="977.0" x2="796.6" y2="977.0" stroke="#484848" stroke-width="0.84"/>
<line x1="788.9" y1="982.0" x2="796.6" y2="982.0" stroke="#484848" stroke-width="0.84"/>
<rect x="796.6" y="849.7" width="3.9" height="134.0" fill="#ededed" stroke="#484848" stroke-width="1.08"/>
<rect x="800.5" y="850.0" width="3.1" height="6.0" fill="#ededed" stroke="#484848" stroke-width="0.96"/>
<rect x="800.5" y="896.0" width="3.1" height="6.0" fill="#ededed" stroke="#484848" stroke-width="0.96"/>
<rect x="800.5" y="934.0" width="3.1" height="6.0" fill="#ededed" stroke="#484848" stroke-width="0.96"/>
<rect x="800.5" y="944.0" width="3.1" height="6.0" fill="#ededed" stroke="#484848" stroke-width="0.96"/>
<rect x="800.5" y="961.0" width="3.1" height="6.0" fill="#ededed" stroke="#484848" stroke-width="0.96"/>
<rect x="800.5" y="976.0" width="3.1" height="6.0" fill="#ededed" stroke="#484848" stroke-width="0.96"/>
<rect x="800.9" y="862.6" width="2.6" height="6.7" fill="#222"/>
<rect x="800.9" y="888.4" width="2.6" height="5.1" fill="#222"/>
<line x1="740.9" y1="840.1" x2="777.4" y2="840.1" stroke="#484848" stroke-width="1.20"/>
<line x1="740.9" y1="850.4" x2="777.4" y2="850.4" stroke="#484848" stroke-width="1.20"/>
<line x1="740.9" y1="990.6" x2="777.4" y2="990.6" stroke="#484848" stroke-width="1.20"/>
<line x1="740.9" y1="1000.7" x2="777.4" y2="1000.7" stroke="#484848" stroke-width="1.20"/>
<rect x="755.0" y="891.0" width="22.4" height="9.2" fill="#ededed" stroke="#484848" stroke-width="1.20"/>
<circle cx="782.8" cy="895.9" r="2.8" fill="none" stroke="#484848" stroke-width="1.08"/>
<rect x="762.7" y="942.1" width="14.2" height="6.5" fill="#222"/>
<path d="M662.9,1014.4 L662.9,834 Q662.9,832.3 664.6,832.3 L670.8,832.3 L676.5,827.8 L729,827.8 L732.2,831.8 L740.1,831.8 Q740.9,831.8 740.9,833 L740.9,1014.4 Z" fill="#ededed" stroke="#484848" stroke-width="1.20"/>
<line x1="662.9" y1="1014.4" x2="740.9" y2="1014.4" stroke="#484848" stroke-width="1.20"/>
<rect x="675.5" y="890.4" width="50.9" height="84.5" rx="4" fill="#ededed" stroke="#484848" stroke-width="1.20"/>
<rect x="676.5" y="872.2" width="58.9" height="6.3" fill="#ededed" stroke="#484848" stroke-width="1.20"/>
<rect x="676.5" y="884.3" width="58.9" height="6.1" fill="#ededed" stroke="#484848" stroke-width="1.20"/>
<line x1="719.0" y1="872.2" x2="719.0" y2="878.5" stroke="#484848" stroke-width="0.84"/>
<line x1="719.0" y1="884.3" x2="719.0" y2="890.4" stroke="#484848" stroke-width="0.84"/>
<rect x="680.7" y="863.8" width="5.8" height="41.3" rx="1.5" fill="#ededed" stroke="#484848" stroke-width="1.20"/>
<circle cx="683.6" cy="881.0" r="5" fill="#ededed" stroke="#484848" stroke-width="1.20"/>
<rect x="709.4" y="863.8" width="5.8" height="41.3" rx="1.5" fill="#ededed" stroke="#484848" stroke-width="1.20"/>
<circle cx="712.3" cy="881.0" r="5" fill="#ededed" stroke="#484848" stroke-width="1.20"/>
<rect x="676.5" y="997.6" width="58.9" height="6.3" fill="#ededed" stroke="#484848" stroke-width="1.20"/>
<rect x="676.5" y="1009.7" width="58.9" height="6.1" fill="#ededed" stroke="#484848" stroke-width="1.20"/>
<line x1="719.0" y1="997.6" x2="719.0" y2="1003.9" stroke="#484848" stroke-width="0.84"/>
<line x1="719.0" y1="1009.7" x2="719.0" y2="1015.8" stroke="#484848" stroke-width="0.84"/>
<rect x="680.7" y="983.4" width="5.8" height="41.1" rx="1.5" fill="#ededed" stroke="#484848" stroke-width="1.20"/>
<circle cx="683.6" cy="1006.4" r="5" fill="#ededed" stroke="#484848" stroke-width="1.20"/>
<rect x="709.4" y="983.4" width="5.8" height="41.1" rx="1.5" fill="#ededed" stroke="#484848" stroke-width="1.20"/>
<circle cx="712.3" cy="1006.4" r="5" fill="#ededed" stroke="#484848" stroke-width="1.20"/>
<line x1="662.9" y1="1005.9" x2="743.7" y2="1005.9" stroke="#484848" stroke-width="1.20"/>
<line x1="662.9" y1="880.9" x2="743.8" y2="880.9" stroke="#484848" stroke-width="1.20"/>
<rect x="637.5" y="1063.6" width="9.0" height="3.4" fill="none" stroke="#484848" stroke-width="1.08"/>
<line x1="651.5" y1="1063.6" x2="651.5" y2="1077.0" stroke="#484848" stroke-width="1.20"/>
<line x1="654.9" y1="1063.6" x2="654.9" y2="1077.0" stroke="#484848" stroke-width="1.20"/>
<path d="M654.9,1076 L596,1076 L593.6,1078.9 L654.9,1078.9" fill="none" stroke="#484848" stroke-width="1.20"/>
<rect x="660.9" y="1076.0" width="107.1" height="3.0" fill="#222"/>
<rect x="685.4" y="1064.2" width="26.4" height="3.0" fill="#222"/>
<rect x="714.7" y="1064.2" width="17.0" height="3.0" fill="#222"/>
<rect x="690.0" y="1067.2" width="7.0" height="5.8" fill="none" stroke="#484848" stroke-width="0.96"/>
<rect x="702.0" y="1067.2" width="7.0" height="5.8" fill="none" stroke="#484848" stroke-width="0.96"/>
<rect x="716.0" y="1067.2" width="13.0" height="5.8" fill="none" stroke="#484848" stroke-width="0.96"/>
<rect x="692.8" y="1073.0" width="47.9" height="3.0" fill="#222"/>
<rect x="718.7" y="1078.9" width="9.0" height="2.6" fill="#222"/>
<path d="M583.8,861.2 Q594,857 604,857" fill="none" stroke="#484848" stroke-width="1.08"/>
<path d="M575.4,871.3 Q592,887 602.3,887.2" fill="none" stroke="#484848" stroke-width="1.08"/>
<line x1="588.0" y1="871.9" x2="604.0" y2="871.9" stroke="#484848" stroke-width="1.08"/>
<g transform="translate(538.4 828.4) rotate(40.90)">
<path d="M0,-3.0 L7.8,-3.8 L10.4,-5.3 L15.4,-5.3 L15.4,5.3 L10.4,5.3 L7.8,3.8 L0,3.0" fill="#ededed" stroke="#484848" stroke-width="0.96"/>
<rect x="15.4" y="-4.1" width="39.4" height="11.0" fill="#ededed" stroke="#484848" stroke-width="0.96"/>
<ellipse cx="17.4" cy="1.4" rx="1.9" ry="11.5" fill="#ededed" stroke="#484848" stroke-width="0.95"/>
<ellipse cx="24.5" cy="1.4" rx="1.9" ry="12.1" fill="#ededed" stroke="#484848" stroke-width="0.95"/>
<ellipse cx="31.6" cy="1.4" rx="1.9" ry="12.7" fill="#ededed" stroke="#484848" stroke-width="0.95"/>
<ellipse cx="38.6" cy="1.4" rx="1.9" ry="13.3" fill="#ededed" stroke="#484848" stroke-width="0.95"/>
<ellipse cx="45.7" cy="1.4" rx="1.9" ry="13.9" fill="#ededed" stroke="#484848" stroke-width="0.95"/>
<ellipse cx="52.8" cy="1.4" rx="1.9" ry="14.5" fill="#ededed" stroke="#484848" stroke-width="0.95"/>
<line x1="17.4" y1="-2.3" x2="52.8" y2="-2.3" stroke="#484848" stroke-width="0.72"/>
<line x1="17.4" y1="5.1" x2="52.8" y2="5.1" stroke="#484848" stroke-width="0.72"/>
<line x1="0.0" y1="0.0" x2="65.6" y2="0.0" stroke="#484848" stroke-width="1.02"/>
</g>
<path d="M512.3,825.7 L532.15,825.7 A6.149999999999977,6.149999999999977 0 0 1 532.15,838 L512.3,838 Z" fill="#ededed" stroke="#484848" stroke-width="1.20"/>
<circle cx="518.4" cy="831.9" r="2.1" fill="none" stroke="#484848" stroke-width="1.08"/>
<circle cx="530.7" cy="831.9" r="2.1" fill="none" stroke="#484848" stroke-width="1.08"/>
<path d="M602.7,904.5 L592,904.5 Q587,908 586,913 L586,921 Q587,927 592,931.6 L602.7,931.6" fill="#ededed" stroke="#484848" stroke-width="1.20"/>
<rect x="549.0" y="909.7" width="38.0" height="14.6" fill="#ededed" stroke="#484848" stroke-width="1.08"/>
<ellipse cx="550.5" cy="917.0" rx="1.9" ry="11.3" fill="#ededed" stroke="#484848" stroke-width="0.95"/>
<ellipse cx="557.5" cy="917.0" rx="1.9" ry="11.8" fill="#ededed" stroke="#484848" stroke-width="0.95"/>
<ellipse cx="564.5" cy="917.0" rx="1.9" ry="12.3" fill="#ededed" stroke="#484848" stroke-width="0.95"/>
<ellipse cx="571.5" cy="917.0" rx="1.9" ry="12.8" fill="#ededed" stroke="#484848" stroke-width="0.95"/>
<ellipse cx="578.5" cy="917.0" rx="1.9" ry="13.3" fill="#ededed" stroke="#484848" stroke-width="0.95"/>
<ellipse cx="585.5" cy="917.0" rx="1.9" ry="13.8" fill="#ededed" stroke="#484848" stroke-width="0.95"/>
<path d="M536.6,913.5 L541,913.5 L543,911 L550,911 L550,923 L543,923 L541,920.5 L536.6,920.5" fill="#ededed" stroke="#484848" stroke-width="1.08"/>
<path d="M509.4,911.3 L530.65,911.3 A5.9500000000000455,5.9500000000000455 0 0 1 530.65,923.2 L509.4,923.2 Z" fill="#ededed" stroke="#484848" stroke-width="1.20"/>
<circle cx="516.5" cy="917.2" r="2.1" fill="none" stroke="#484848" stroke-width="1.08"/>
<circle cx="528.0" cy="917.2" r="2.1" fill="none" stroke="#484848" stroke-width="1.08"/>
<line x1="536.0" y1="917.0" x2="618.0" y2="917.0" stroke="#484848" stroke-width="0.96"/>
<path d="M572,963.4 Q585,952 598.9,950" fill="none" stroke="#484848" stroke-width="1.08"/>
<line x1="583.0" y1="966.4" x2="602.3" y2="966.4" stroke="#484848" stroke-width="1.08"/>
<path d="M582.5,973.1 Q592,974 601.4,979.4" fill="none" stroke="#484848" stroke-width="1.08"/>
<g transform="translate(533.4 1004.6) rotate(-37.90)">
<path d="M0,-3.0 L8.5,-3.8 L11.3,-5.3 L16.8,-5.3 L16.8,5.3 L11.3,5.3 L8.5,3.8 L0,3.0" fill="#ededed" stroke="#484848" stroke-width="0.96"/>
<rect x="16.8" y="-5.7" width="39.5" height="11.0" fill="#ededed" stroke="#484848" stroke-width="0.96"/>
<ellipse cx="18.8" cy="-0.2" rx="1.9" ry="11.6" fill="#ededed" stroke="#484848" stroke-width="0.95"/>
<ellipse cx="25.9" cy="-0.2" rx="1.9" ry="12.3" fill="#ededed" stroke="#484848" stroke-width="0.95"/>
<ellipse cx="33.0" cy="-0.2" rx="1.9" ry="13.0" fill="#ededed" stroke="#484848" stroke-width="0.95"/>
<ellipse cx="40.1" cy="-0.2" rx="1.9" ry="13.6" fill="#ededed" stroke="#484848" stroke-width="0.95"/>
<ellipse cx="47.2" cy="-0.2" rx="1.9" ry="14.3" fill="#ededed" stroke="#484848" stroke-width="0.95"/>
<ellipse cx="54.3" cy="-0.2" rx="1.9" ry="15.0" fill="#ededed" stroke="#484848" stroke-width="0.95"/>
<line x1="18.8" y1="-3.9" x2="54.3" y2="-3.9" stroke="#484848" stroke-width="0.72"/>
<line x1="18.8" y1="3.5" x2="54.3" y2="3.5" stroke="#484848" stroke-width="0.72"/>
<line x1="0.0" y1="0.0" x2="62.9" y2="0.0" stroke="#484848" stroke-width="1.02"/>
</g>
<path d="M507.4,997.4 L529.4499999999999,997.4 A5.850000000000023,5.850000000000023 0 0 1 529.4499999999999,1009.1 L507.4,1009.1 Z" fill="#ededed" stroke="#484848" stroke-width="1.20"/>
<circle cx="514.4" cy="1003.2" r="2.1" fill="none" stroke="#484848" stroke-width="1.08"/>
<circle cx="526.8" cy="1003.2" r="2.1" fill="none" stroke="#484848" stroke-width="1.08"/>
<line x1="499.0" y1="1003.3" x2="528.0" y2="1003.3" stroke="#484848" stroke-width="0.96"/>
<path d="M802.5,862.8 L820.2,868.3 L822,866" fill="none" stroke="#484848" stroke-width="1.08"/>
<path d="M801,876.3 L822.7,876.3 L827,872" fill="none" stroke="#484848" stroke-width="1.08"/>
<path d="M802.5,891.4 Q820,887 833.6,877.1" fill="none" stroke="#484848" stroke-width="1.08"/>
<g transform="translate(869.7 834.7) rotate(139.10)">
<path d="M0,-3.0 L8.1,-3.8 L10.7,-5.3 L15.9,-5.3 L15.9,5.3 L10.7,5.3 L8.1,3.8 L0,3.0" fill="#ededed" stroke="#484848" stroke-width="0.96"/>
<rect x="15.9" y="-6.0" width="38.9" height="11.0" fill="#ededed" stroke="#484848" stroke-width="0.96"/>
<ellipse cx="17.9" cy="-0.5" rx="1.9" ry="11.4" fill="#ededed" stroke="#484848" stroke-width="0.95"/>
<ellipse cx="24.9" cy="-0.5" rx="1.9" ry="12.0" fill="#ededed" stroke="#484848" stroke-width="0.95"/>
<ellipse cx="31.9" cy="-0.5" rx="1.9" ry="12.6" fill="#ededed" stroke="#484848" stroke-width="0.95"/>
<ellipse cx="38.8" cy="-0.5" rx="1.9" ry="13.3" fill="#ededed" stroke="#484848" stroke-width="0.95"/>
<ellipse cx="45.8" cy="-0.5" rx="1.9" ry="13.9" fill="#ededed" stroke="#484848" stroke-width="0.95"/>
<ellipse cx="52.8" cy="-0.5" rx="1.9" ry="14.5" fill="#ededed" stroke="#484848" stroke-width="0.95"/>
<line x1="17.9" y1="-4.2" x2="52.8" y2="-4.2" stroke="#484848" stroke-width="0.72"/>
<line x1="17.9" y1="3.2" x2="52.8" y2="3.2" stroke="#484848" stroke-width="0.72"/>
<line x1="0.0" y1="0.0" x2="62.3" y2="0.0" stroke="#484848" stroke-width="1.02"/>
</g>
<path d="M896.5,830.6 L876.3,830.6 A6.300000000000011,6.300000000000011 0 0 0 876.3,843.2 L896.5,843.2 Z" fill="#ededed" stroke="#484848" stroke-width="1.20"/>
<circle cx="877.6" cy="836.9" r="2.1" fill="none" stroke="#484848" stroke-width="1.08"/>
<circle cx="889.9" cy="836.9" r="2.1" fill="none" stroke="#484848" stroke-width="1.08"/>
<rect x="800.9" y="910.4" width="26.5" height="25.0" fill="#ededed" stroke="#484848" stroke-width="1.20"/>
<rect x="828.8" y="913.5" width="37.6" height="15.0" fill="#ededed" stroke="#484848" stroke-width="1.08"/>
<ellipse cx="830.3" cy="921.0" rx="1.9" ry="14.0" fill="#ededed" stroke="#484848" stroke-width="0.95"/>
<ellipse cx="837.2" cy="921.0" rx="1.9" ry="13.7" fill="#ededed" stroke="#484848" stroke-width="0.95"/>
<ellipse cx="844.1" cy="921.0" rx="1.9" ry="13.4" fill="#ededed" stroke="#484848" stroke-width="0.95"/>
<ellipse cx="851.1" cy="921.0" rx="1.9" ry="13.1" fill="#ededed" stroke="#484848" stroke-width="0.95"/>
<ellipse cx="858.0" cy="921.0" rx="1.9" ry="12.8" fill="#ededed" stroke="#484848" stroke-width="0.95"/>
<ellipse cx="864.9" cy="921.0" rx="1.9" ry="12.5" fill="#ededed" stroke="#484848" stroke-width="0.95"/>
<path d="M866,917 L871,917 L873,915 L880.3,915 L880.3,927 L873,927 L871,925 L866,925" fill="#ededed" stroke="#484848" stroke-width="1.08"/>
<path d="M906.8,915.6 L885.8,915.6 A5.5,5.5 0 0 0 885.8,926.6 L906.8,926.6 Z" fill="#ededed" stroke="#484848" stroke-width="1.20"/>
<circle cx="887.6" cy="921.1" r="2.1" fill="none" stroke="#484848" stroke-width="1.08"/>
<circle cx="899.1" cy="921.1" r="2.1" fill="none" stroke="#484848" stroke-width="1.08"/>
<line x1="801.0" y1="921.2" x2="925.0" y2="921.2" stroke="#484848" stroke-width="0.96"/>
<path d="M828.5,969.1 Q815,955 801.3,954" fill="none" stroke="#484848" stroke-width="1.08"/>
<line x1="816.5" y1="970.4" x2="801.3" y2="970.4" stroke="#484848" stroke-width="1.08"/>
<path d="M817,980.4 Q810,982 801.3,984.2" fill="none" stroke="#484848" stroke-width="1.08"/>
<g transform="translate(865.7 1010.7) rotate(-143.40)">
<path d="M0,-3.0 L6.8,-3.8 L9.1,-5.3 L13.2,-5.3 L13.2,5.3 L9.1,5.3 L6.8,3.8 L0,3.0" fill="#ededed" stroke="#484848" stroke-width="0.96"/>
<rect x="13.2" y="-3.5" width="40.0" height="11.0" fill="#ededed" stroke="#484848" stroke-width="0.96"/>
<ellipse cx="15.2" cy="2.0" rx="1.9" ry="11.6" fill="#ededed" stroke="#484848" stroke-width="0.95"/>
<ellipse cx="22.4" cy="2.0" rx="1.9" ry="12.2" fill="#ededed" stroke="#484848" stroke-width="0.95"/>
<ellipse cx="29.6" cy="2.0" rx="1.9" ry="12.8" fill="#ededed" stroke="#484848" stroke-width="0.95"/>
<ellipse cx="36.8" cy="2.0" rx="1.9" ry="13.3" fill="#ededed" stroke="#484848" stroke-width="0.95"/>
<ellipse cx="44.0" cy="2.0" rx="1.9" ry="13.9" fill="#ededed" stroke="#484848" stroke-width="0.95"/>
<ellipse cx="51.2" cy="2.0" rx="1.9" ry="14.5" fill="#ededed" stroke="#484848" stroke-width="0.95"/>
<line x1="15.2" y1="-1.7" x2="51.2" y2="-1.7" stroke="#484848" stroke-width="0.72"/>
<line x1="15.2" y1="5.7" x2="51.2" y2="5.7" stroke="#484848" stroke-width="0.72"/>
<line x1="0.0" y1="0.0" x2="58.3" y2="0.0" stroke="#484848" stroke-width="1.02"/>
</g>
<path d="M892.8,1003.8 L872.2,1003.8 A6.5,6.5 0 0 0 872.2,1016.8 L892.8,1016.8 Z" fill="#ededed" stroke="#484848" stroke-width="1.20"/>
<circle cx="873.9" cy="1010.3" r="2.1" fill="none" stroke="#484848" stroke-width="1.08"/>
<circle cx="885.6" cy="1010.3" r="2.1" fill="none" stroke="#484848" stroke-width="1.08"/>
<line x1="512.4" y1="777.6" x2="512.4" y2="831.8" stroke="#484848" stroke-width="1.20"/>
<line x1="895.9" y1="777.0" x2="895.9" y2="825.0" stroke="#484848" stroke-width="1.20"/>
<line x1="513.4" y1="786.5" x2="894.9" y2="786.5" stroke="#484848" stroke-width="1.20"/>
<path d="M513.4,786.5 L525.4,784.0 L525.4,789.0 Z" fill="#1a1a1a"/>
<path d="M894.9,786.5 L882.9,789.0 L882.9,784.0 Z" fill="#1a1a1a"/>
<text x="705.5" y="782.5" font-size="10.5" text-anchor="middle" font-weight="normal" fill="#484848" letter-spacing="0.2">1160</text>
<line x1="482.7" y1="831.5" x2="512.4" y2="831.5" stroke="#484848" stroke-width="1.20"/>
<line x1="495.4" y1="871.9" x2="618.0" y2="871.9" stroke="#484848" stroke-width="1.20"/>
<line x1="472.4" y1="880.9" x2="743.8" y2="880.9" stroke="#484848" stroke-width="1.20"/>
<line x1="495.4" y1="916.8" x2="618.0" y2="916.8" stroke="#484848" stroke-width="1.20"/>
<line x1="495.4" y1="963.5" x2="618.0" y2="963.5" stroke="#484848" stroke-width="1.20"/>
<line x1="472.4" y1="1005.9" x2="743.7" y2="1005.9" stroke="#484848" stroke-width="1.20"/>
<line x1="472.4" y1="1079.9" x2="594.0" y2="1079.9" stroke="#484848" stroke-width="1.20"/>
<line x1="478.8" y1="883.4" x2="478.8" y2="1003.4" stroke="#484848" stroke-width="1.20"/>
<path d="M478.8,883.4 L481.3,895.4 L476.3,895.4 Z" fill="#1a1a1a"/>
<path d="M478.8,1003.4 L476.3,991.4 L481.3,991.4 Z" fill="#1a1a1a"/>
<line x1="478.8" y1="1008.4" x2="478.8" y2="1077.4" stroke="#484848" stroke-width="1.20"/>
<path d="M478.8,1008.4 L481.3,1020.4 L476.3,1020.4 Z" fill="#1a1a1a"/>
<path d="M478.8,1077.4 L476.3,1065.4 L481.3,1065.4 Z" fill="#1a1a1a"/>
<line x1="499.3" y1="874.4" x2="499.3" y2="914.3" stroke="#484848" stroke-width="1.20"/>
<path d="M499.3,874.4 L501.8,886.4 L496.8,886.4 Z" fill="#1a1a1a"/>
<path d="M499.3,914.3 L496.8,902.3 L501.8,902.3 Z" fill="#1a1a1a"/>
<line x1="499.3" y1="919.3" x2="499.3" y2="961.0" stroke="#484848" stroke-width="1.20"/>
<path d="M499.3,919.3 L501.8,931.3 L496.8,931.3 Z" fill="#1a1a1a"/>
<path d="M499.3,961.0 L496.8,949.0 L501.8,949.0 Z" fill="#1a1a1a"/>
<text x="476.3" y="943.3" font-size="10.5" text-anchor="middle" font-weight="normal" fill="#484848" letter-spacing="0" transform="rotate(-90 476.3 943.3)">400</text>
<text x="476.3" y="1041.0" font-size="10.5" text-anchor="middle" font-weight="normal" fill="#484848" letter-spacing="0" transform="rotate(-90 476.3 1041.0)">205</text>
<text x="496.3" y="894.4" font-size="10.5" text-anchor="middle" font-weight="normal" fill="#484848" letter-spacing="0" transform="rotate(-90 496.3 894.4)">135</text>
<text x="496.3" y="940.2" font-size="10.5" text-anchor="middle" font-weight="normal" fill="#484848" letter-spacing="0" transform="rotate(-90 496.3 940.2)">135</text>
<line x1="729.0" y1="827.7" x2="940.8" y2="827.7" stroke="#484848" stroke-width="1.20"/>
<line x1="727.7" y1="1081.6" x2="940.8" y2="1081.6" stroke="#484848" stroke-width="1.20"/>
<line x1="933.8" y1="830.2" x2="933.8" y2="1079.1" stroke="#484848" stroke-width="1.20"/>
<path d="M933.8,830.2 L936.3,842.2 L931.3,842.2 Z" fill="#1a1a1a"/>
<path d="M933.8,1079.1 L931.3,1067.1 L936.3,1067.1 Z" fill="#1a1a1a"/>
<text x="931.8" y="954.5" font-size="10.5" text-anchor="middle" font-weight="normal" fill="#484848" letter-spacing="0" transform="rotate(-90 931.8 954.5)">775</text>
<line x1="896.5" y1="836.8" x2="922.0" y2="836.8" stroke="#484848" stroke-width="1.20"/>
<line x1="906.8" y1="920.7" x2="925.7" y2="920.7" stroke="#484848" stroke-width="1.20"/>
<line x1="892.8" y1="1010.0" x2="922.0" y2="1010.0" stroke="#484848" stroke-width="1.20"/>
<line x1="912.9" y1="839.3" x2="912.9" y2="918.2" stroke="#484848" stroke-width="1.20"/>
<path d="M912.9,839.3 L915.4,851.3 L910.4,851.3 Z" fill="#1a1a1a"/>
<path d="M912.9,918.2 L910.4,906.2 L915.4,906.2 Z" fill="#1a1a1a"/>
<line x1="912.9" y1="923.2" x2="912.9" y2="1007.5" stroke="#484848" stroke-width="1.20"/>
<path d="M912.9,923.2 L915.4,935.2 L910.4,935.2 Z" fill="#1a1a1a"/>
<path d="M912.9,1007.5 L910.4,995.5 L915.4,995.5 Z" fill="#1a1a1a"/>
<text x="910.8" y="878.8" font-size="10.5" text-anchor="middle" font-weight="normal" fill="#484848" letter-spacing="0" transform="rotate(-90 910.8 878.8)">260</text>
<text x="910.8" y="965.0" font-size="10.5" text-anchor="middle" font-weight="normal" fill="#484848" letter-spacing="0" transform="rotate(-90 910.8 965.0)">260</text>
<text x="527.5" y="817.0" font-size="10.5" text-anchor="start" font-weight="normal" fill="#484848" letter-spacing="0">Φ13</text>
<line x1="523.2" y1="826.1" x2="529.4" y2="818.2" stroke="#484848" stroke-width="1.08"/>
<line x1="529.4" y1="818.2" x2="545.1" y2="818.2" stroke="#484848" stroke-width="1.08"/>
<line x1="518.4" y1="827.0" x2="518.4" y2="849.6" stroke="#484848" stroke-width="1.08"/>
<line x1="530.7" y1="827.0" x2="530.7" y2="849.6" stroke="#484848" stroke-width="1.08"/>
<line x1="514.8" y1="846.6" x2="533.5" y2="846.6" stroke="#484848" stroke-width="1.08"/>
<text x="518.8" y="856.3" font-size="10.5" text-anchor="start" font-weight="normal" fill="#484848" letter-spacing="0">40</text>
<text x="747.5" y="803.5" font-size="9.3" text-anchor="start" font-weight="bold" fill="#3c3c3c" letter-spacing="0.4">吊钩</text>
<line x1="745.0" y1="808.0" x2="766.4" y2="808.0" stroke="#484848" stroke-width="1.08"/>
<line x1="745.0" y1="808.0" x2="686.5" y2="863.8" stroke="#484848" stroke-width="1.08"/>
<text x="623.6" y="1127.0" font-size="9.3" text-anchor="start" font-weight="bold" fill="#3c3c3c" letter-spacing="0.4">箱盖</text>
<line x1="612.9" y1="1130.7" x2="644.3" y2="1130.7" stroke="#484848" stroke-width="1.08"/>
<line x1="612.9" y1="1130.7" x2="648.8" y2="967.2" stroke="#484848" stroke-width="1.08"/>
<path d="M648.8,967.2 L648.9,980.0 L643.4,978.8 Z" fill="#1a1a1a"/>
<text x="739.6" y="1127.0" font-size="9.3" text-anchor="start" font-weight="bold" fill="#3c3c3c" letter-spacing="0.4">机构罩</text>
<line x1="735.4" y1="1130.7" x2="769.3" y2="1130.7" stroke="#484848" stroke-width="1.08"/>
<line x1="735.4" y1="1130.7" x2="712.8" y2="1043.0" stroke="#484848" stroke-width="1.08"/>
<path d="M712.8,1043.0 L718.6,1054.4 L713.2,1055.8 Z" fill="#1a1a1a"/>
<text x="864.0" y="1127.0" font-size="9.3" text-anchor="start" font-weight="bold" fill="#3c3c3c" letter-spacing="0.4">重心线</text>
<line x1="855.0" y1="1130.7" x2="896.0" y2="1130.7" stroke="#484848" stroke-width="1.08"/>
<line x1="855.0" y1="1130.7" x2="771.2" y2="950.6" stroke="#484848" stroke-width="1.08"/>
<path d="M771.2,950.6 L779.0,960.8 L773.9,963.1 Z" fill="#1a1a1a"/>
</svg>
</body></html>
